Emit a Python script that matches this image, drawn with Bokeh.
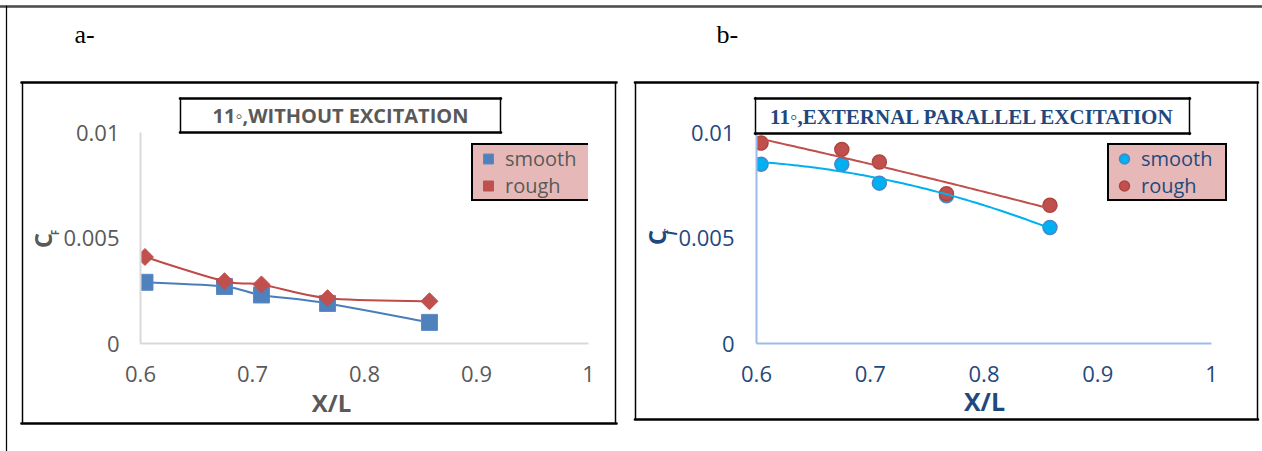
import numpy as np
from bokeh.plotting import figure
from bokeh.layouts import row
from bokeh.models import (Range1d, FixedTicker, NumeralTickFormatter, Legend, LegendItem, Label)
from bokeh.embed import file_html
from bokeh.resources import INLINE

# streamwise stations
x_over_l = [0.604, 0.675, 0.708, 0.767, 0.858]
# skin friction coefficient, 11 deg, without excitation
cf_smooth_a = [0.0029, 0.0027, 0.0023, 0.0019, 0.0010]
cf_rough_a = [0.0041, 0.00295, 0.0028, 0.00215, 0.0020]
# skin friction coefficient, 11 deg, external parallel excitation
cf_smooth_b = [0.0085, 0.0085, 0.0076, 0.0070, 0.0055]
cf_rough_b = [0.0095, 0.0092, 0.0086, 0.0071, 0.00655]

x_ticks = [0.6, 0.7, 0.8, 0.9, 1.0]
x_tick_labels = ["0.6", "0.7", "0.8", "0.9", "1"]
y_ticks = [0.0, 0.005, 0.01]
y_tick_labels = ["0", "0.005", "0.01"]
series_names = ["smooth", "rough"]
panel_titles = ["11\u25e6,WITHOUT EXCITATION", "11\u25e6,EXTERNAL PARALLEL EXCITATION"]
panel_tags = ["a-", "b-"]

W, H = 631, 451
FRAME_T, FRAME_B = 132, 343
GRAY = "#595959"
NAVY = "#1f497d"
PINK = "#e6b9b8"


class Panel:
    """One chart: a figure plus pixel -> data helpers for its decorations."""

    def __init__(self, left, right, x_end, text_color, axis_color, y_standoff):
        self.l, self.r = left, right
        self.kx = (x_end - 0.6) / (right - left)
        self.ky = 0.01 / (FRAME_B - FRAME_T)
        p = figure(width=W, height=H, x_range=Range1d(0.6, x_end), y_range=Range1d(0, 0.01),
                   output_backend="svg", toolbar_location=None,
                   min_border_left=left, min_border_right=W - right,
                   min_border_top=FRAME_T, min_border_bottom=H - FRAME_B)
        p.outline_line_color = None
        p.xgrid.visible = False
        p.ygrid.visible = False
        p.background_fill_color = "white"
        p.border_fill_color = "white"

        p.xaxis.ticker = FixedTicker(ticks=x_ticks)
        p.xaxis.formatter = NumeralTickFormatter(format="0.[0]")
        p.xaxis.major_label_overrides = dict(zip(x_ticks, x_tick_labels))
        p.xaxis.bounds = (x_ticks[0], x_ticks[-1])
        p.yaxis.ticker = FixedTicker(ticks=y_ticks)
        p.yaxis.formatter = NumeralTickFormatter(format="0.[000]")
        p.yaxis.major_label_overrides = dict(zip(y_ticks, y_tick_labels))
        for ax in (p.xaxis, p.yaxis):
            ax.axis_line_color = axis_color
            ax.axis_line_width = 2
            ax.major_tick_line_color = None
            ax.minor_tick_line_color = None
            ax.major_label_text_font = "Open Sans"
            ax.major_label_text_font_size = "22px"
            ax.major_label_text_color = text_color
        p.xaxis.major_label_standoff = 16
        p.yaxis.major_label_standoff = y_standoff
        self.p = p
        self.text_color = text_color

    def px(self, xp):
        return 0.6 + (xp - self.l) * self.kx

    def py(self, yp):
        return (FRAME_B - yp) * self.ky

    def _stroke(self, cx, cy, half_w, half_h, width, side):
        # a thin bordered strip, drawn as a rule between two canvas points
        self.p.add_layout(Label(x=self.px(cx), y=self.py(cy), text=" ",
                                text_font_size="1px", text_align="center",
                                text_baseline="middle",
                                padding=(int(round(half_w)), int(round(half_h))),
                                border_line_color="black", border_line_width=width,
                                border_line_alpha=1), side)

    def hline(self, y, x0, x1, width=1.2, side="above"):
        self._stroke((x0 + x1) / 2, y, (x1 - x0) / 2, 0, width, side)

    def vline(self, x, y0, y1, width=1.2, side="left"):
        self._stroke(x, (y0 + y1) / 2, 0, (y1 - y0) / 2, width, side)

    def box(self, l, r, t, b, width=1.2, bottom_side="above"):
        self.hline(t, l - 1, r + 1, width)
        self.hline(b, l - 1, r + 1, width, side=bottom_side)
        self.vline(l, t, b, width)
        self.vline(r, t, b, width)

    def text(self, side, x, y, text, font, size, color, style="normal", angle=0.0,
             align="center"):
        self.p.add_layout(Label(x=self.px(x), y=self.py(y), text=text, angle=angle,
                                text_align=align, text_baseline="middle", text_font=font,
                                text_font_style=style, text_font_size=size,
                                text_color=color), side)

    def legend(self, renderers, left_px, bottom_px):
        legend = Legend(items=[LegendItem(label=n, renderers=[r])
                               for n, r in zip(series_names, renderers)],
                        location=(left_px - self.l, FRAME_B - bottom_px),
                        orientation="vertical",
                        background_fill_color=PINK, background_fill_alpha=1,
                        border_line_color="black", border_line_width=2, border_line_alpha=1,
                        label_text_font="Open Sans", label_text_font_size="20px",
                        label_text_color=self.text_color, label_standoff=2,
                        glyph_width=30, glyph_height=25, label_height=25, label_width=84,
                        spacing=0, padding=0, margin=0)
        self.p.add_layout(legend)


def smooth_curve(p, xs, ys, color):
    # Catmull-Rom style smoothing through the measured points
    x = np.asarray(xs, dtype=float)
    y = np.asarray(ys, dtype=float)
    n = len(x)
    x0, y0, x1, y1, cx0, cy0, cx1, cy1 = [], [], [], [], [], [], [], []
    for i in range(n - 1):
        ia, ib = max(i - 1, 0), min(i + 2, n - 1)
        x0.append(x[i]); y0.append(y[i]); x1.append(x[i + 1]); y1.append(y[i + 1])
        cx0.append(x[i] + (x[i + 1] - x[ia]) / 6); cy0.append(y[i] + (y[i + 1] - y[ia]) / 6)
        cx1.append(x[i + 1] - (x[ib] - x[i]) / 6); cy1.append(y[i + 1] - (y[ib] - y[i]) / 6)
    p.bezier(x0=x0, y0=y0, x1=x1, y1=y1, cx0=cx0, cy0=cy0, cx1=cx1, cy1=cy1,
             line_color=color, line_width=2)


def trend_curve(p, xs, ys, color):
    # second-order polynomial trendline over the measured range
    coef = np.polyfit(xs, ys, 2)
    xt = np.linspace(min(xs), max(xs), 80)
    p.line(xt, np.polyval(coef, xt), line_color=color, line_width=2)


# ---------------- panel a ----------------
A = Panel(140, 588, 1.0, GRAY, "#d9d9d9", 15)
pa = A.p
A.hline(6, -5, W + 5, width=1)               # page rule, top
A.vline(6, 6, H + 5, width=1)                # page rule, left
A.box(22, 615, 82, 423, bottom_side="below")  # chart border
A.box(180, 500, 98, 132)                     # title border
A.text("above", 74, 34, panel_tags[0], "Liberation Serif", "26px", "black", align="left")
A.text("above", 340, 115, panel_titles[0], "Open Sans", "20px", GRAY, style="bold")

smooth_curve(pa, x_over_l, cf_smooth_a, "#4a7ebb")
sq = pa.scatter(x_over_l, cf_smooth_a, marker="square", size=16,
                fill_color="#4f81bd", line_color="#5a8ac4", line_width=1)
smooth_curve(pa, x_over_l, cf_rough_a, "#be4b48")
dm = pa.scatter(x_over_l, cf_rough_a, marker="square", angle=np.pi / 4, size=12,
                fill_color="#c0504d", line_color="#c0504d", line_width=1)
A.legend([sq, dm], 471, 201)

A.text("below", 331, 402, "X/L", "Open Sans", "24px", GRAY, style="bold")
A.text("above", 42, 240, "C", "Open Sans", "24px", GRAY, style="bold", angle=np.pi / 2)
A.text("above", 54, 232, "F", "Open Sans", "10px", GRAY, style="bold", angle=np.pi / 2)

# ---------------- panel b ----------------
B = Panel(125, 604, 0.6 + 479 / 1137.5, NAVY, "#9dbbe8", 16)
pb = B.p
B.hline(6, -5, W + 5, width=1)
B.box(4, 626, 82, 419, bottom_side="below")
B.box(124, 558, 98, 133)
B.text("above", 85, 34, panel_tags[1], "Liberation Serif", "26px", "black", align="left")
B.text("above", 341, 116, panel_titles[1], "Liberation Serif", "21px", NAVY, style="bold")

cs = pb.scatter(x_over_l, cf_smooth_b, marker="circle", size=14,
                fill_color="#00b0f0", line_color="#4a86c8", line_width=1.5)
cr = pb.scatter(x_over_l, cf_rough_b, marker="circle", size=14,
                fill_color="#c0504d", line_color="#b04440", line_width=1.5)
trend_curve(pb, x_over_l, cf_smooth_b, "#00b0f0")
trend_curve(pb, x_over_l, cf_rough_b, "#c0504d")
B.legend([cs, cr], 476, 201)

B.text("below", 353, 400, "X/L", "Open Sans", "25px", NAVY, style="bold")
B.text("above", 25, 237, "C", "Open Sans", "24px", NAVY, style="bold", angle=np.pi / 2)
B.text("above", 37, 232, "f", "Liberation Serif", "15px", NAVY, style="bold italic",
       angle=np.pi / 2)

layout = row(pa, pb)
open("out.html", "w").write(file_html(layout, INLINE))
